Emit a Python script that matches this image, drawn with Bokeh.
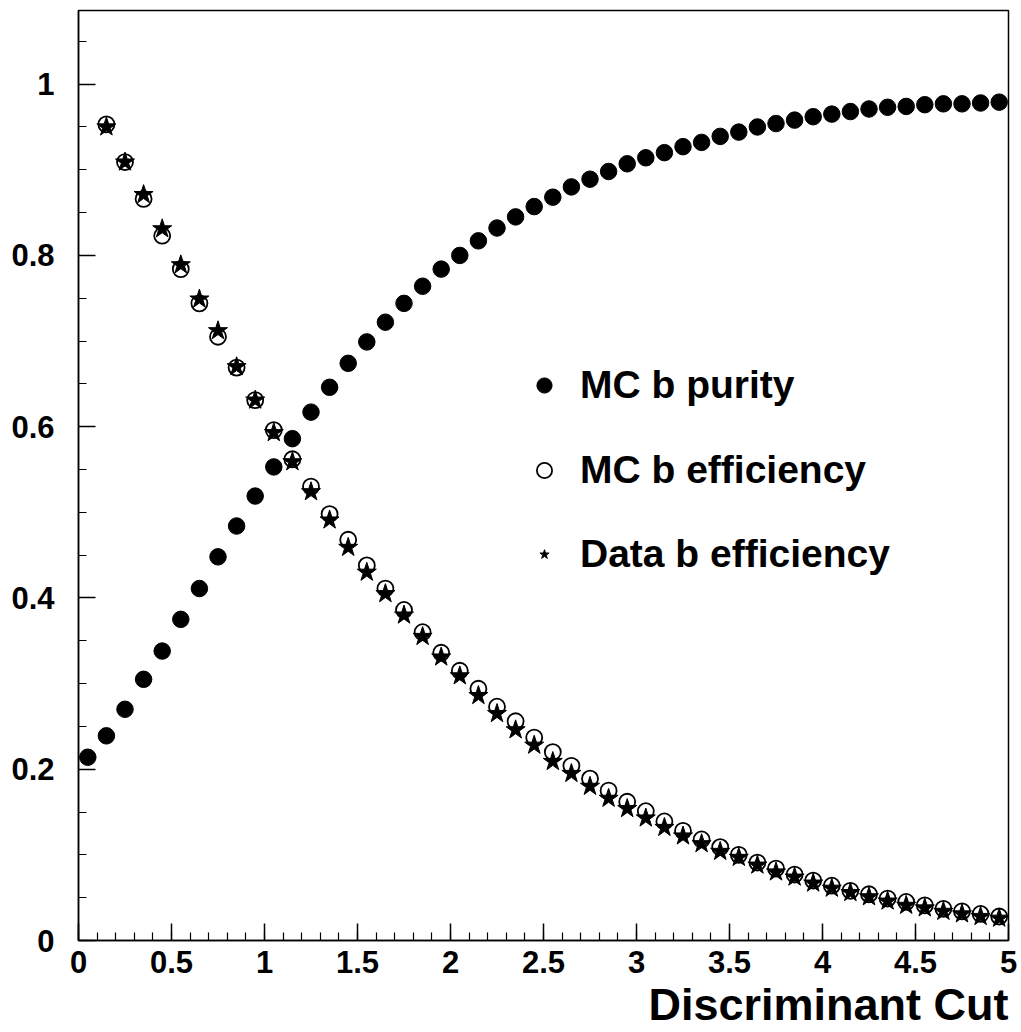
from bokeh.plotting import figure
from bokeh.models import Range1d, FixedTicker, Legend, LegendItem, Title
from bokeh.embed import file_html
from bokeh.resources import INLINE

# Discriminant cut values (bin centres)
cut_purity = [0.05, 0.15, 0.25, 0.35, 0.45, 0.55, 0.65, 0.75, 0.85, 0.95,
              1.05, 1.15, 1.25, 1.35, 1.45, 1.55, 1.65, 1.75, 1.85, 1.95,
              2.05, 2.15, 2.25, 2.35, 2.45, 2.55, 2.65, 2.75, 2.85, 2.95,
              3.05, 3.15, 3.25, 3.35, 3.45, 3.55, 3.65, 3.75, 3.85, 3.95,
              4.05, 4.15, 4.25, 4.35, 4.45, 4.55, 4.65, 4.75, 4.85, 4.95]
cut_eff = cut_purity[1:]

mc_purity = [0.214, 0.239, 0.270, 0.305, 0.338, 0.375, 0.411, 0.448, 0.484, 0.519,
             0.553, 0.586, 0.617, 0.646, 0.674, 0.699, 0.722, 0.744, 0.764, 0.784,
             0.800, 0.817, 0.832, 0.845, 0.857, 0.868, 0.880, 0.889, 0.898, 0.907,
             0.914, 0.920, 0.927, 0.932, 0.939, 0.944, 0.950, 0.954, 0.958, 0.962,
             0.965, 0.968, 0.971, 0.973, 0.974, 0.976, 0.977, 0.977, 0.978, 0.979]

mc_eff = [0.953, 0.909, 0.866, 0.823, 0.784, 0.744, 0.705, 0.669, 0.631,
          0.596, 0.562, 0.530, 0.498, 0.468, 0.438, 0.411, 0.386, 0.360, 0.336,
          0.315, 0.294, 0.273, 0.256, 0.237, 0.220, 0.204, 0.189, 0.175, 0.162,
          0.151, 0.139, 0.128, 0.118, 0.109, 0.100, 0.091, 0.084, 0.077, 0.070,
          0.064, 0.058, 0.054, 0.049, 0.045, 0.041, 0.037, 0.034, 0.031, 0.028]

data_eff = [0.950, 0.909, 0.871, 0.831, 0.789, 0.749, 0.712, 0.670, 0.631,
            0.593, 0.559, 0.524, 0.491, 0.459, 0.430, 0.405, 0.380, 0.355, 0.331,
            0.309, 0.286, 0.265, 0.246, 0.228, 0.209, 0.195, 0.180, 0.166, 0.154,
            0.143, 0.132, 0.122, 0.113, 0.104, 0.097, 0.088, 0.080, 0.074, 0.067,
            0.061, 0.056, 0.051, 0.046, 0.041, 0.038, 0.034, 0.031, 0.028, 0.026]

x_ticks = [0, 0.5, 1, 1.5, 2, 2.5, 3, 3.5, 4, 4.5, 5]
x_tick_labels = ["0", "0.5", "1", "1.5", "2", "2.5", "3", "3.5", "4", "4.5", "5"]
y_ticks = [0, 0.2, 0.4, 0.6, 0.8, 1.0]
y_tick_labels = ["0", "0.2", "0.4", "0.6", "0.8", "1"]

FONT = "Liberation Sans"

p = figure(width=1021, height=1032, output_backend="svg", toolbar_location=None,
           x_range=Range1d(0, 5), y_range=Range1d(0, 1.086),
           min_border_left=78, min_border_right=13, min_border_top=10,
           min_border_bottom=92)
p.background_fill_color = "white"
p.border_fill_color = "white"
p.grid.visible = False
p.outline_line_color = "black"
p.outline_line_width = 1.5
p.outline_line_alpha = 1.0

p.xaxis.ticker = FixedTicker(ticks=x_ticks,
                             minor_ticks=[round(0.1 * i, 1) for i in range(51)])
p.yaxis.ticker = FixedTicker(ticks=y_ticks,
                             minor_ticks=[round(0.05 * i, 2) for i in range(22)])
p.xaxis.major_label_overrides = dict(zip(x_ticks, x_tick_labels))
p.yaxis.major_label_overrides = dict(zip(y_ticks, y_tick_labels))

for ax in (p.xaxis[0], p.yaxis[0]):
    ax.axis_line_color = "black"
    ax.axis_line_width = 1.5
    ax.major_tick_in = 17
    ax.major_tick_out = 0
    ax.minor_tick_in = 8
    ax.minor_tick_out = 0
    ax.major_tick_line_color = "black"
    ax.minor_tick_line_color = "black"
    ax.major_tick_line_width = 1.5
    ax.minor_tick_line_width = 1.2
    ax.major_label_text_font = FONT
    ax.major_label_text_font_style = "bold"
    ax.major_label_text_font_size = "31px"
    ax.major_label_text_color = "black"
p.yaxis.major_label_standoff = 24
p.xaxis.major_label_standoff = 10

r_pur = p.scatter(cut_purity, mc_purity, marker="circle", size=16.5,
                  fill_color="black", line_color="black")
r_mce = p.scatter(cut_eff, mc_eff, marker="circle", size=16,
                  fill_color=None, line_color="black", line_width=1.8)
r_dat = p.scatter(cut_eff, data_eff, marker="star", size=20,
                  fill_color="black", line_color="black")


def make_legend(label, renderer, loc, gw, standoff):
    lg = Legend(items=[LegendItem(label=label, renderers=[renderer])],
                location=loc, orientation="vertical",
                border_line_color=None, background_fill_alpha=0,
                padding=0, margin=0, spacing=0,
                glyph_width=gw, glyph_height=46, label_height=46,
                label_standoff=standoff,
                label_text_font=FONT, label_text_font_style="bold",
                label_text_font_size="39px", label_text_color="black")
    p.add_layout(lg)


make_legend("MC b purity", r_pur, (447, 532), 38, 17)
make_legend("MC b efficiency", r_mce, (447, 447), 38, 17)
make_legend("Data b efficiency", r_dat, (454, 363), 24, 24)

# x-axis title, right-aligned under the frame
p.add_layout(Title(text="Discriminant Cut", align="right", standoff=3,
                   text_font=FONT, text_font_style="bold",
                   text_font_size="45px", text_color="black"), "below")

open("out.html", "w").write(file_html(p, INLINE))
